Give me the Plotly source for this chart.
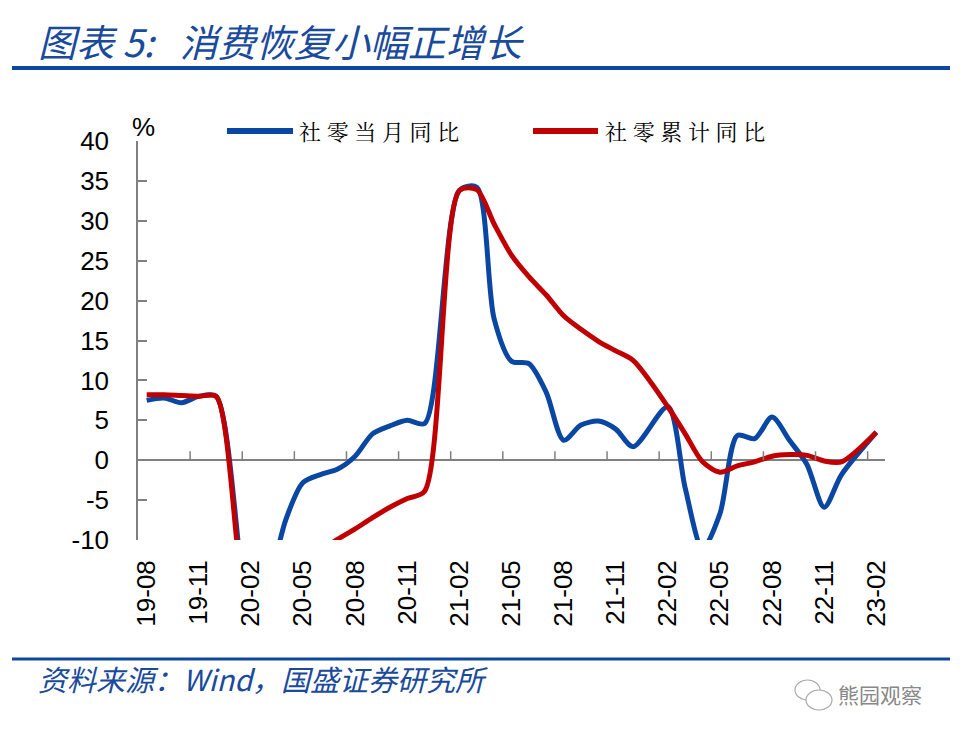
import plotly.graph_objects as go

months = ["19-08", "19-09", "19-10", "19-11", "19-12",
          "20-01", "20-02", "20-03", "20-04", "20-05", "20-06", "20-07", "20-08", "20-09", "20-10", "20-11", "20-12",
          "21-01", "21-02", "21-03", "21-04", "21-05", "21-06", "21-07", "21-08", "21-09", "21-10", "21-11", "21-12",
          "22-01", "22-02", "22-03", "22-04", "22-05", "22-06", "22-07", "22-08", "22-09", "22-10", "22-11", "22-12",
          "23-01", "23-02"]

monthly_yoy = [7.5, 7.8, 7.2, 8.0, 8.0,
               None, -20.5, -15.8, -7.5, -2.8, -1.8, -1.1, 0.5, 3.3, 4.3, 5.0, 4.6,
               None, 33.8, 34.2, 17.7, 12.4, 12.1, 8.5, 2.5, 4.4, 4.9, 3.9, 1.7,
               None, 6.7, -3.5, -11.1, -6.7, 3.1, 2.7, 5.4, 2.5, -0.5, -5.9, -1.8,
               None, 3.5]

cumulative_yoy = [8.2, 8.2, 8.1, 8.0, 8.0,
                  None, -20.5, -19.0, -16.2, -13.5, -11.4, -9.9, -8.6, -7.2, -5.9, -4.8, -3.9,
                  None, 33.8, 33.9, 29.6, 25.7, 23.0, 20.7, 18.1, 16.4, 14.9, 13.7, 12.5,
                  None, 6.7, 3.3, -0.2, -1.5, -0.7, -0.2, 0.5, 0.7, 0.6, -0.1, -0.2,
                  None, 3.5]

series_names = ["社零当月同比", "社零累计同比"]
y_ticks = [-10, -5, 0, 5, 10, 15, 20, 25, 30, 35, 40]
y_tick_text = [str(v) for v in y_ticks]

BLUE = "#0A47A3"
RED = "#C00000"
TEXT_BLUE = "#1A4A9C"
AXIS_GREY = "#808080"

OFF = 8  # page body margin
W, H = 960 - OFF, 734 - OFF
L, R, T, B = 138, 885, 141, 540


def px(x):
    return (x - L) / (R - L)


def py(y):
    return (B - y) / (B - T)


idx = list(range(len(months)))
label_idx = idx[::3]

fig = go.Figure()
fig.add_trace(go.Scatter(x=idx, y=monthly_yoy, mode="lines", name=series_names[0],
                         line=dict(color=BLUE, width=5, shape="spline", smoothing=0.8),
                         connectgaps=True))
fig.add_trace(go.Scatter(x=idx, y=cumulative_yoy, mode="lines", name=series_names[1],
                         line=dict(color=RED, width=5, shape="spline", smoothing=0.8),
                         connectgaps=True))

shapes = []
for i in label_idx[1:]:
    shapes.append(dict(type="line", xref="x", yref="y", x0=i - 0.5, x1=i - 0.5,
                       ysizemode="pixel", yanchor=0, y0=0, y1=9,
                       line=dict(color=AXIS_GREY, width=1.5)))
shapes.append(dict(type="line", xref="paper", yref="paper", x0=px(12), x1=px(950), y0=py(68), y1=py(68),
                   line=dict(color="#0D47A1", width=4)))
shapes.append(dict(type="line", xref="paper", yref="paper", x0=px(12), x1=px(950), y0=py(659), y1=py(659),
                   line=dict(color="#0D47A1", width=3)))
shapes.append(dict(type="line", xref="paper", yref="paper", x0=px(227), x1=px(293), y0=py(131), y1=py(131),
                   line=dict(color=BLUE, width=6)))
shapes.append(dict(type="line", xref="paper", yref="paper", x0=px(533), x1=px(598), y0=py(131), y1=py(131),
                   line=dict(color=RED, width=6)))
shapes.append(dict(type="circle", xref="paper", yref="paper", x0=px(795), x1=px(820), y0=py(700), y1=py(680),
                   line=dict(color="#AAAAAA", width=1.2)))
shapes.append(dict(type="circle", xref="paper", yref="paper", x0=px(806), x1=px(832), y0=py(710), y1=py(690),
                   line=dict(color="#AAAAAA", width=1.2), fillcolor="white"))

annotations = [
    dict(text="图表 5:   消费恢复小幅正增长", xref="paper", yref="paper", x=px(36), y=py(40),
         xanchor="left", yanchor="middle", showarrow=False,
         font=dict(family="Noto Sans CJK SC", size=38, color=TEXT_BLUE, style="italic")),
    dict(text="资料来源：Wind，国盛证券研究所", xref="paper", yref="paper", x=px(36), y=py(678),
         xanchor="left", yanchor="middle", showarrow=False,
         font=dict(family="Noto Sans CJK SC", size=29, color=TEXT_BLUE, style="italic")),
    dict(text="熊园观察", xref="paper", yref="paper", x=px(836), y=py(694),
         xanchor="left", yanchor="middle", showarrow=False,
         font=dict(family="Noto Sans CJK SC", size=21, color="#888888")),
    dict(text="%", xref="paper", yref="paper", x=px(143), y=py(127),
         xanchor="center", yanchor="middle", showarrow=False,
         font=dict(family="Liberation Sans", size=26, color="black")),
    dict(text="社 零 当 月 同 比", xref="paper", yref="paper", x=px(297), y=py(131),
         xanchor="left", yanchor="middle", showarrow=False,
         font=dict(family="Noto Serif CJK SC, Noto Sans CJK SC", size=22, color="black")),
    dict(text="社 零 累 计 同 比", xref="paper", yref="paper", x=px(603), y=py(131),
         xanchor="left", yanchor="middle", showarrow=False,
         font=dict(family="Noto Serif CJK SC, Noto Sans CJK SC", size=22, color="black")),
]

fig.update_layout(
    width=W, height=H,
    margin=dict(l=L - OFF, r=W - (R - OFF), t=T - OFF, b=H - (B - OFF), pad=0),
    paper_bgcolor="white", plot_bgcolor="white",
    showlegend=False,
    shapes=shapes,
    annotations=annotations,
    xaxis=dict(range=[-0.5, len(months) - 0.5], tickmode="array", tickvals=label_idx,
               ticktext=[months[i] for i in label_idx], tickangle=-90, ticks="",
               showline=False, showgrid=False, zeroline=False, ticklabelstandoff=14,
               tickfont=dict(family="Liberation Sans", size=26, color="black")),
    yaxis=dict(range=[-10, 40], tickmode="array", tickvals=y_ticks, ticktext=y_tick_text,
               ticks="inside", ticklen=9,
               tickwidth=1.5, tickcolor=AXIS_GREY, showline=True, linecolor=AXIS_GREY, linewidth=1.5,
               showgrid=False, zeroline=True, zerolinecolor=AXIS_GREY, zerolinewidth=2,
               ticklabelstandoff=22,
               tickfont=dict(family="Liberation Sans", size=26, color="black")),
)

fig.write_html("out.html")
